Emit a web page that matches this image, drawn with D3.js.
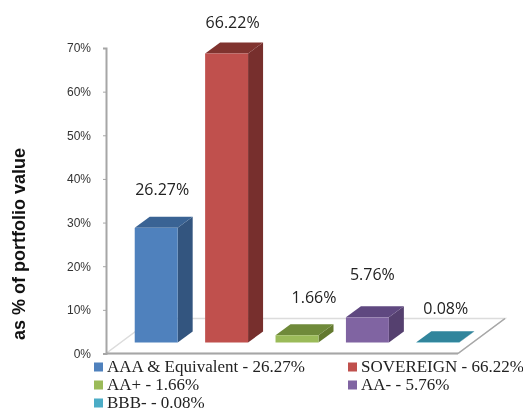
<!DOCTYPE html>
<html lang="en">
  <head>
    <meta charset="UTF-8" />
    <style>
      html,
      body {
        margin: 0;
        background: #fff;
      }
      svg {
        display: block;
        filter: blur(0.5px);
      }
      .axis text {
        font: 12px "Liberation Sans", sans-serif;
        fill: #333;
      }
      .axis line,
      .axis path {
        stroke: #a6a6a6;
      }
      .axis path {
        stroke-width: 2px;
      }
      .value {
        font: 16px "Open Sans", sans-serif;
        fill: #222;
        text-anchor: middle;
      }
      .legend text {
        font: 17px "Liberation Serif", serif;
        fill: #222;
      }
    </style>
    <script src="https://d3js.org/d3.v7.min.js"></script>
    <title>Portfolio by rating</title>
  </head>
  <body>
    <script>
      var categories = ["AAA & Equivalent", "SOVEREIGN", "AA+", "AA-", "BBB-"];
      var values = [26.27, 66.22, 1.66, 5.76, 0.08];
      var frontColors = ["#4f81bd", "#c0504d", "#9bbb59", "#8064a2", "#4bacc6"];
      var sideColors = ["#33557f", "#772f2d", "#63792f", "#55406f", "#2c7388"];
      var topColors = ["#3a6394", "#80332f", "#6f8a3a", "#5f4880", "#31859c"];
      var yTicks = [0, 10, 20, 30, 40, 50, 60, 70];

      var width = 523,
        height = 414;
      var plot = { left: 106, right: 458, top: 48, bottom: 353.5 };
      var depth = { x: 47, y: 35 }; // floor depth
      var barDepth = { x: 15, y: 11 }; // bar depth, also how far bars sit in from the front
      // label nudges from the top of each bar
      var labelDx = [6, 6, 17, 5, 8];
      var labelDy = [33, 25, 32, 37, 28];

      var svg = d3
        .select("body")
        .append("svg")
        .attr("width", width)
        .attr("height", height);

      var x = d3
        .scaleBand()
        .domain(categories)
        .range([plot.left, plot.right])
        .paddingInner(0.39)
        .paddingOuter(0.195);

      var y = d3.scaleLinear().domain([0, 70]).range([plot.bottom, plot.top]);

      // floor
      svg
        .append("path")
        .attr(
          "d",
          d3.line()([
            [plot.left, plot.bottom],
            [plot.right, plot.bottom],
            [plot.right + depth.x, plot.bottom - depth.y],
            [plot.left + depth.x, plot.bottom - depth.y],
          ]) + "Z"
        )
        .attr("fill", "#fff")
        .attr("stroke", "#dcdcdc")
        .attr("stroke-width", 1.5);

      svg
        .append("line")
        .attr("x1", plot.right)
        .attr("y1", plot.bottom)
        .attr("x2", plot.right + depth.x)
        .attr("y2", plot.bottom - depth.y)
        .attr("stroke", "#a6a6a6")
        .attr("stroke-width", 1.5);

      svg
        .append("line")
        .attr("x1", plot.left)
        .attr("y1", plot.bottom)
        .attr("x2", plot.right)
        .attr("y2", plot.bottom)
        .attr("stroke", "#a6a6a6")
        .attr("stroke-width", 2);

      // y axis
      svg
        .append("g")
        .attr("class", "axis")
        .attr("transform", "translate(" + plot.left + ",0)")
        .call(
          d3
            .axisLeft(y)
            .tickValues(yTicks)
            .tickSize(3)
            .tickPadding(12)
            .tickFormat(function (d) {
              return d + "%";
            })
        );

      // bars, three faces each
      var bars = svg
        .selectAll(".bar")
        .data(categories)
        .enter()
        .append("g")
        .attr("class", "bar");

      function barBox(i) {
        var left = x(categories[i]) + barDepth.x;
        var base = plot.bottom - barDepth.y;
        return {
          left: left,
          right: left + x.bandwidth(),
          base: base,
          top: base - (plot.bottom - y(values[i])),
        };
      }

      bars
        .append("path")
        .attr("fill", function (d, i) {
          return sideColors[i];
        })
        .attr("d", function (d, i) {
          var b = barBox(i);
          return (
            d3.line()([
              [b.right, b.base],
              [b.right + barDepth.x, b.base - barDepth.y],
              [b.right + barDepth.x, b.top - barDepth.y],
              [b.right, b.top],
            ]) + "Z"
          );
        });

      bars
        .append("path")
        .attr("fill", function (d, i) {
          return topColors[i];
        })
        .attr("d", function (d, i) {
          var b = barBox(i);
          return (
            d3.line()([
              [b.left, b.top],
              [b.right, b.top],
              [b.right + barDepth.x, b.top - barDepth.y],
              [b.left + barDepth.x, b.top - barDepth.y],
            ]) + "Z"
          );
        });

      bars
        .append("rect")
        .attr("fill", function (d, i) {
          return frontColors[i];
        })
        .attr("x", function (d, i) {
          return barBox(i).left;
        })
        .attr("y", function (d, i) {
          return barBox(i).top;
        })
        .attr("width", x.bandwidth())
        .attr("height", function (d, i) {
          return barBox(i).base - barBox(i).top;
        });

      // value labels
      bars
        .append("text")
        .attr("class", "value")
        .attr("x", function (d, i) {
          return (barBox(i).left + barBox(i).right) / 2 + labelDx[i];
        })
        .attr("y", function (d, i) {
          return barBox(i).top - labelDy[i];
        })
        .text(function (d, i) {
          return values[i].toFixed(2) + "%";
        });

      // axis title
      svg
        .append("text")
        .attr("transform", "translate(25,244) rotate(-90)")
        .attr("text-anchor", "middle")
        .style("font", "bold 18px 'Liberation Sans', sans-serif")
        .style("fill", "#111")
        .text("as % of portfolio value");

      // legend, two columns
      var legend = svg
        .selectAll(".legend")
        .data(categories)
        .enter()
        .append("g")
        .attr("class", "legend")
        .attr("transform", function (d, i) {
          return (
            "translate(" +
            (i % 2 ? 348 : 94) +
            "," +
            (367 + Math.floor(i / 2) * 18) +
            ")"
          );
        });

      legend
        .append("rect")
        .attr("y", -4.5)
        .attr("width", 9)
        .attr("height", 9)
        .attr("fill", function (d, i) {
          return frontColors[i];
        });

      legend
        .append("text")
        .attr("x", 13)
        .attr("y", 5)
        .text(function (d, i) {
          return d + " - " + values[i].toFixed(2) + "%";
        });
    </script>
  </body>
</html>
